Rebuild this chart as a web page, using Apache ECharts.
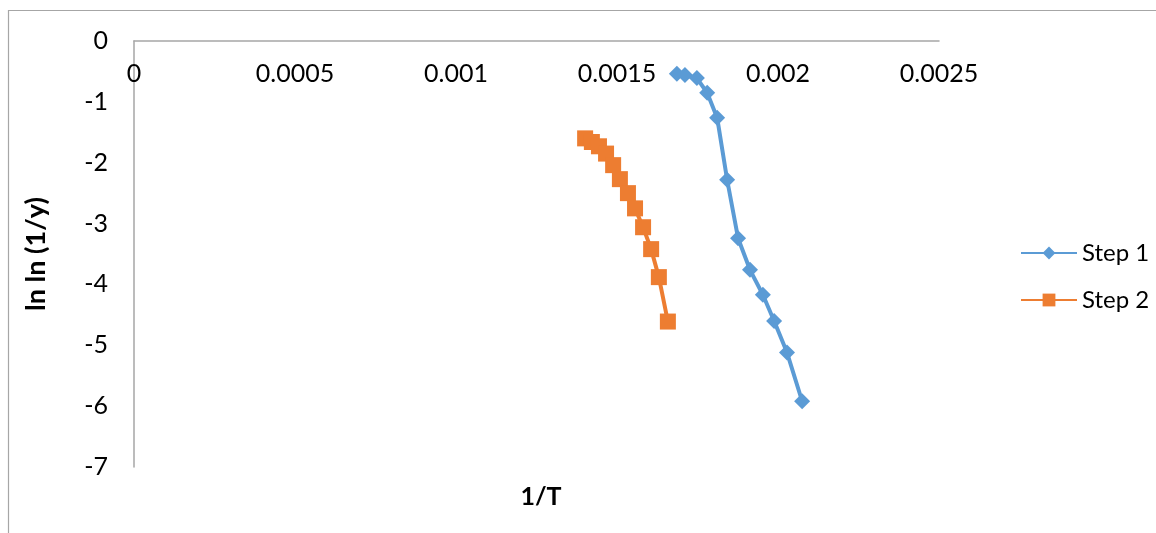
<!DOCTYPE html>
<html><head><meta charset="utf-8">
<script src="https://cdn.jsdelivr.net/npm/echarts@6/dist/echarts.min.js"></script>
<style>html,body{margin:0;padding:0;background:#fff}#c{width:1156px;height:533px}</style>
</head><body><div id="c"></div>
<script>
const step1X = [0.001686, 0.001711, 0.001748, 0.001780, 0.001811, 0.001842, 0.001876, 0.001913, 0.001953, 0.001988, 0.002028, 0.002075];
const step1Y = [-0.54, -0.56, -0.61, -0.85, -1.26, -2.28, -3.24, -3.76, -4.17, -4.60, -5.12, -5.92];
const step2X = [0.001401, 0.001422, 0.001444, 0.001466, 0.001488, 0.001509, 0.001534, 0.001556, 0.001581, 0.001606, 0.001630, 0.001658];
const step2Y = [-1.60, -1.66, -1.73, -1.85, -2.04, -2.27, -2.50, -2.75, -3.06, -3.42, -3.88, -4.61];
const seriesNames = ['Step 1', 'Step 2'];
const xTitle = '1/T';
const yTitle = 'ln ln (1/y)';

const font = 'Lato, "Open Sans", sans-serif';
const pair = (xs, ys) => xs.map((x, i) => [x, ys[i]]);
const chart = echarts.init(document.getElementById('c'));
chart.setOption({
  animation: false,
  backgroundColor: '#fff',
  textStyle: {fontFamily: font},
  graphic: [{type: 'rect', shape: {x: 8.5, y: 10.5, width: 1300, height: 700}, style: {fill: 'none', stroke: '#a6a6a6', lineWidth: 1.2}, silent: true}],
  title: {text: xTitle, left: 536, top: 479, textAlign: 'center',
    textStyle: {fontFamily: font, fontWeight: 'bold', fontSize: 25, color: '#000'}},
  grid: {left: 134, top: 41, right: 217, bottom: 66, containLabel: false},
  legend: {orient: 'vertical', left: 1015, top: 236, itemWidth: 56, itemHeight: 16, itemGap: 23,
    textStyle: {fontFamily: font, fontSize: 24, color: '#000'}, data: seriesNames},
  xAxis: {type: 'value', min: 0, max: 0.0025, interval: 0.0005, position: 'top',
    axisLine: {onZero: false, lineStyle: {color: '#a6a6a6', width: 1.5}},
    axisTick: {show: false}, splitLine: {show: false},
    axisLabel: {inside: true, margin: 20, fontSize: 25, color: '#000', fontFamily: font,
      formatter: v => String(+v.toFixed(4))}},
  yAxis: {type: 'value', min: -7, max: 0, interval: 1,
    name: yTitle, nameLocation: 'middle', nameGap: 84, nameRotate: 90,
    nameTextStyle: {fontFamily: font, fontWeight: 'bold', fontSize: 27, color: '#000'},
    axisLine: {show: true, lineStyle: {color: '#a6a6a6', width: 1.5}},
    axisTick: {show: false}, splitLine: {show: false},
    axisLabel: {margin: 26, fontSize: 25, color: '#000', fontFamily: font}},
  series: [
    {name: seriesNames[0], type: 'line', data: pair(step1X, step1Y), symbol: 'diamond', symbolSize: 16,
      itemStyle: {color: '#5B9BD5'}, lineStyle: {color: '#5B9BD5', width: 4}},
    {name: seriesNames[1], type: 'line', data: pair(step2X, step2Y), symbol: 'rect', symbolSize: 16,
      itemStyle: {color: '#ED7D31'}, lineStyle: {color: '#ED7D31', width: 4}}
  ]
});
</script></body></html>
